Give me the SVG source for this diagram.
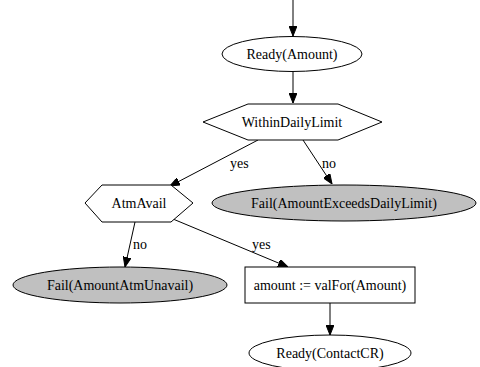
<svg xmlns="http://www.w3.org/2000/svg" width="480" height="367" viewBox="0 0 480 367">
<style>
text{font-family:"Liberation Serif","Times New Roman",serif;font-size:14px;fill:#000;text-anchor:middle}
.s{fill:#fff;stroke:#000;stroke-width:1}
.g{fill:#c0c0c0;stroke:#000;stroke-width:1}
.e{fill:none;stroke:#000;stroke-width:1;marker-end:url(#ah)}
.l{text-anchor:start}
</style>
<defs>
<marker id="ah" markerUnits="userSpaceOnUse" markerWidth="10" markerHeight="8" refX="10" refY="4" orient="auto">
<path d="M0,0 L10,4 L0,8 z" fill="#000" stroke="#000" stroke-width="1"/>
</marker>
</defs>
<g id="edges">
<line class="e" x1="293" y1="0" x2="293" y2="36"/>
<line class="e" x1="293" y1="72" x2="293" y2="103"/>
<line class="e" x1="258" y1="140" x2="170" y2="186"/>
<text class="l" x="230" y="168">yes</text>
<line class="e" x1="303" y1="140" x2="332" y2="184"/>
<text class="l" x="322" y="168">no</text>
<line class="e" x1="135" y1="222" x2="125" y2="267"/>
<text class="l" x="133" y="249">no</text>
<line class="e" x1="173" y1="219" x2="288" y2="267"/>
<text class="l" x="252" y="249">yes</text>
<line class="e" x1="330" y1="303" x2="330" y2="335"/>
</g>
<g id="ready_amount">
<ellipse class="s" cx="292" cy="54" rx="70" ry="17.5"/>
<text x="292" y="58.5">Ready(Amount)</text>
</g>
<g id="within_daily_limit">
<polygon class="s" points="203,122 248,104 338,104 382,122 338,140 248,140"/>
<text x="292" y="126.5">WithinDailyLimit</text>
</g>
<g id="atm_avail">
<polygon class="s" points="85,203 102,185 171,185 193,203 171,222 102,222"/>
<text x="139" y="207.5">AtmAvail</text>
</g>
<g id="fail_exceeds">
<ellipse class="g" cx="344" cy="203" rx="132" ry="18"/>
<text x="344" y="207.5">Fail(AmountExceedsDailyLimit)</text>
</g>
<g id="fail_unavail">
<ellipse class="g" cx="120" cy="285" rx="107" ry="18"/>
<text x="120" y="289.5">Fail(AmountAtmUnavail)</text>
</g>
<g id="assign">
<rect class="s" x="245" y="267" width="170" height="36"/>
<text x="330" y="289.5">amount := valFor(Amount)</text>
</g>
<g id="ready_contact">
<ellipse class="s" cx="330" cy="353" rx="81" ry="18"/>
<text x="330" y="357.5">Ready(ContactCR)</text>
</g>
</svg>
